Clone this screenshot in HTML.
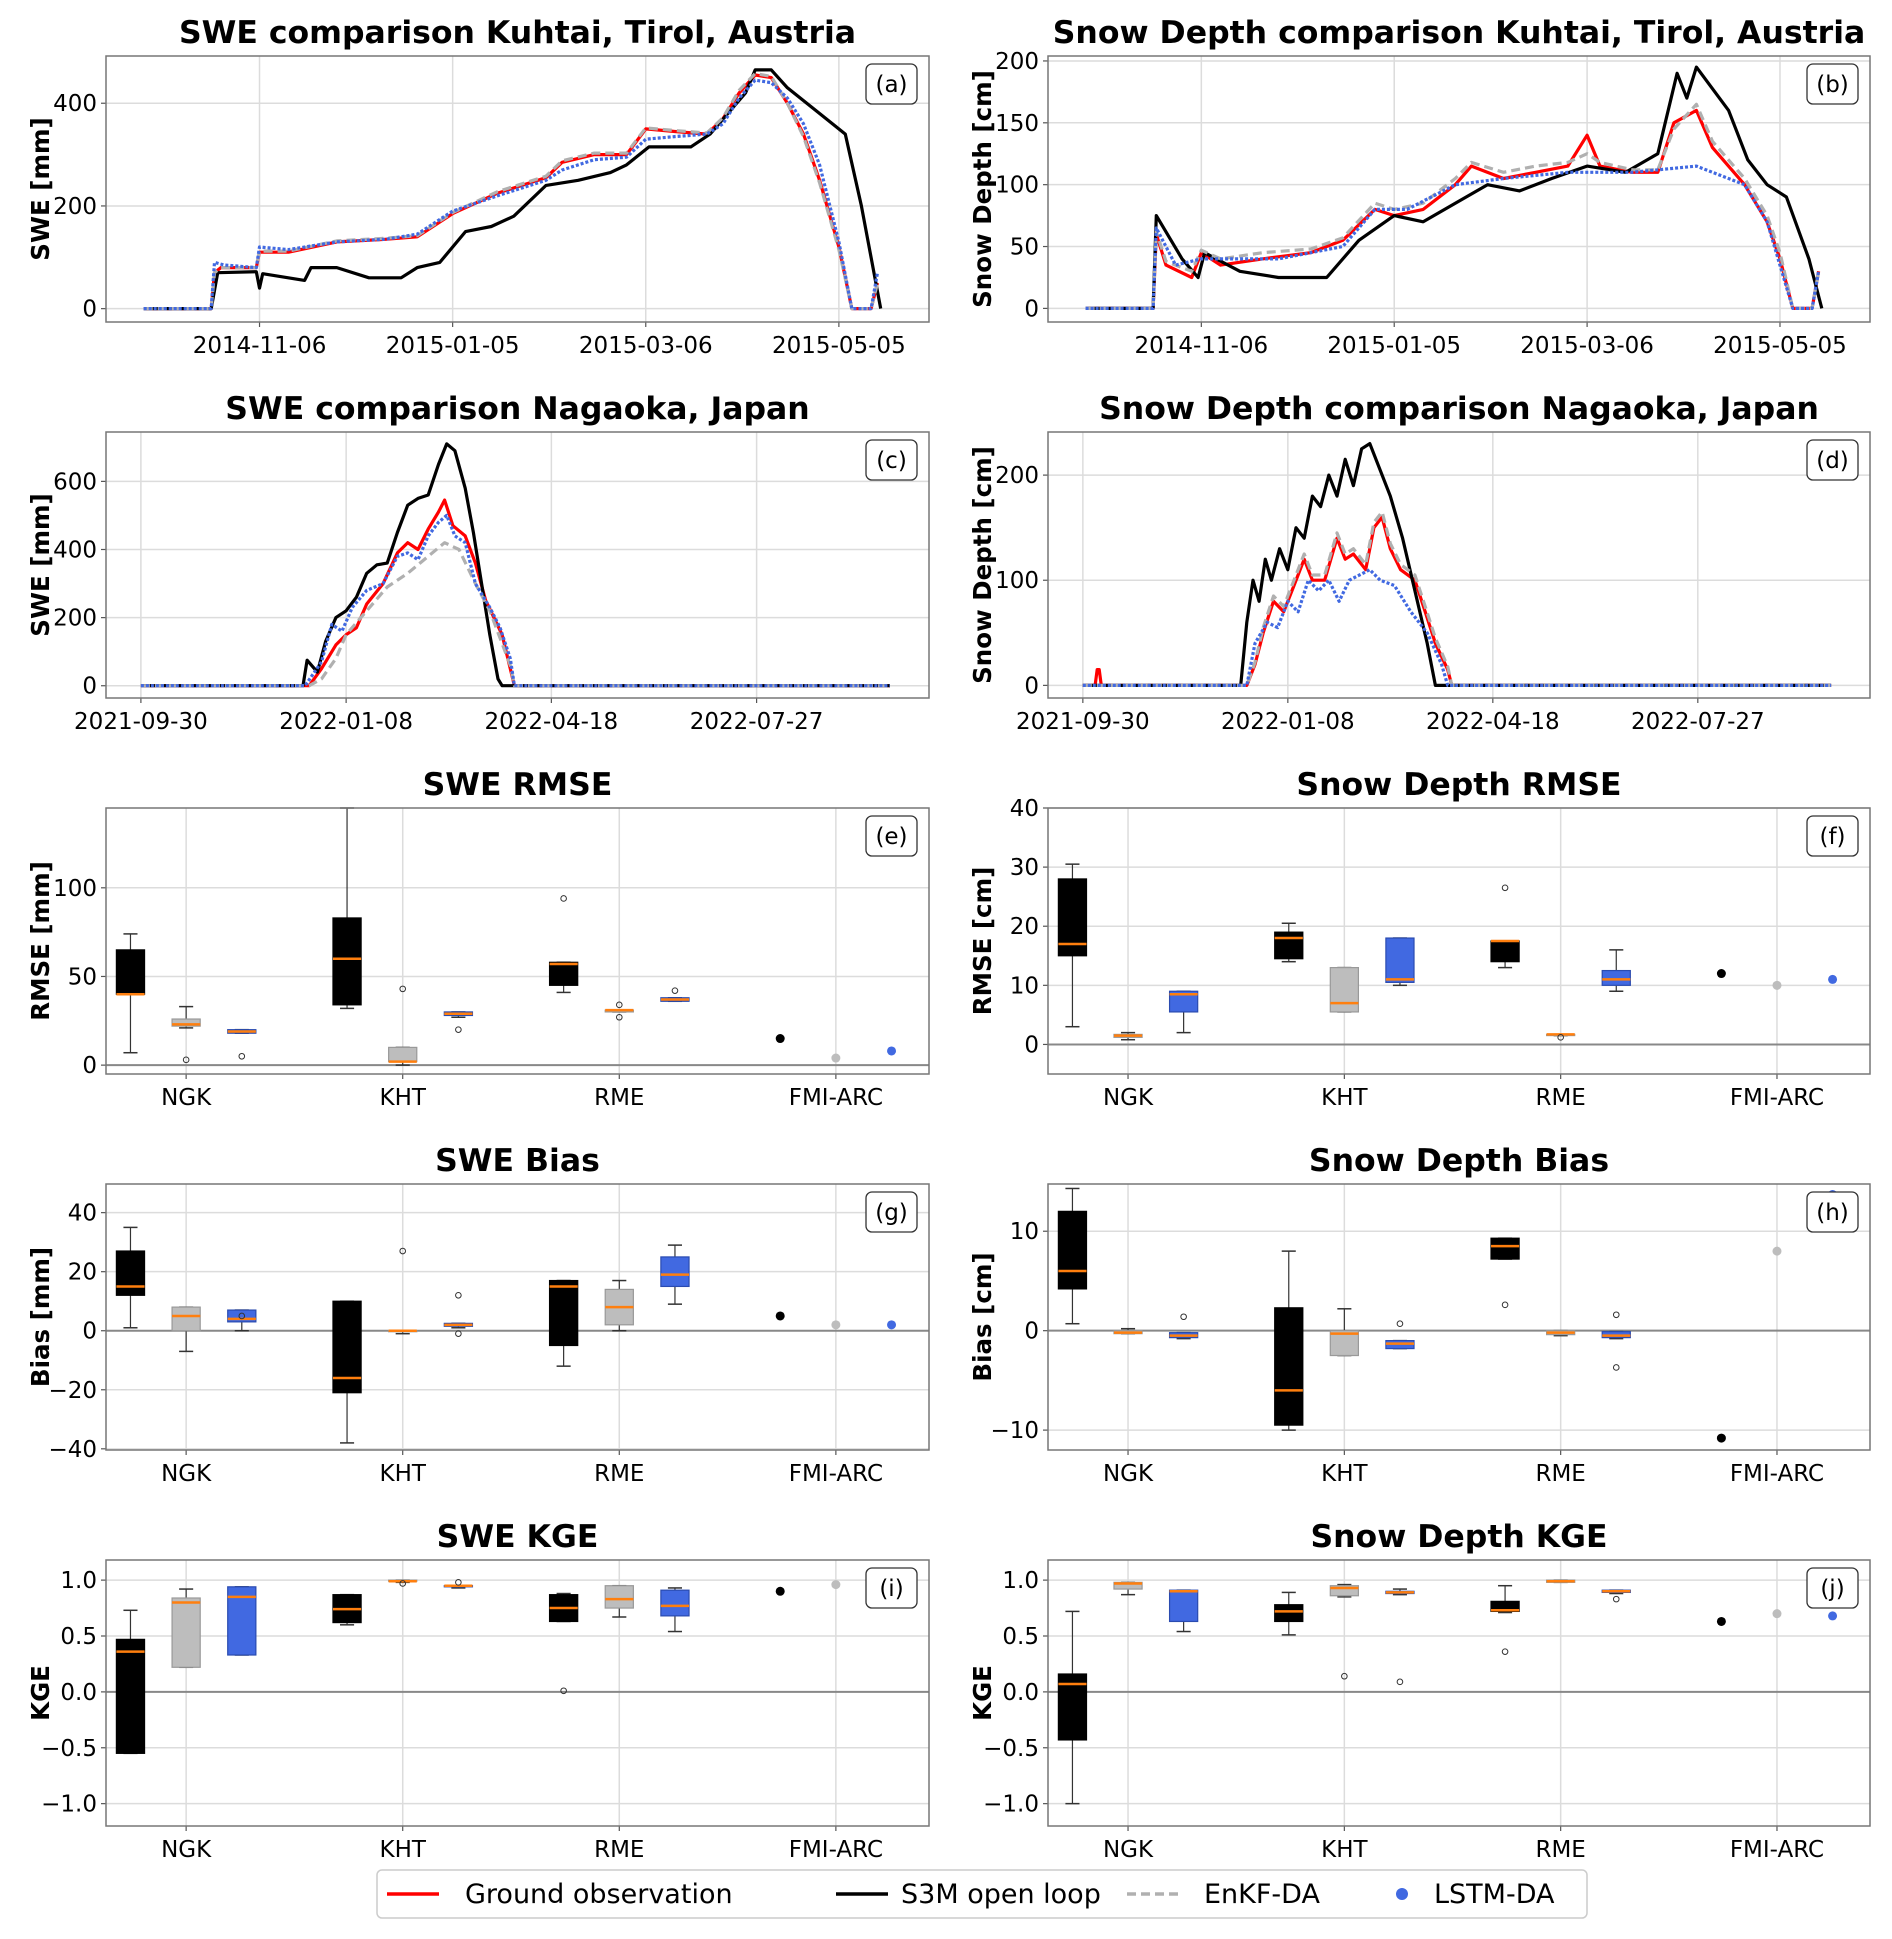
<!DOCTYPE html>
<html><head><meta charset="utf-8"><style>
body{margin:0;background:#fff}
svg text{font-family:"DejaVu Sans","Liberation Sans",sans-serif}
</style></head><body>
<svg id="fig" width="1892" height="1934" viewBox="0 0 1892 1934" xmlns="http://www.w3.org/2000/svg"></svg>
<script>
// ---------- time series data (day index) ----------
const aDates=["2014-11-06","2015-01-05","2015-03-06","2015-05-05"];
const aDateDays=[36,96,156,216];
const aRedX=[0,21,22,24,35,36,45,60,75,85,96,110,125,130,140,150,156,165,175,180,185,190,195,200,205,210,216,220,226,228];
const aRedY=[0,0,70,80,80,110,110,130,135,140,185,225,255,285,300,300,350,345,340,370,420,455,450,400,340,250,120,0,0,50];
const aBlackX=[0,21,23,35,36,37,50,52,60,70,80,85,92,100,108,115,125,135,145,150,157,170,176,187,190,195,200,210,218,223,229];
const aBlackY=[0,0,70,72,40,68,55,80,80,60,60,80,90,150,160,180,240,250,265,280,315,315,340,420,465,465,430,380,340,200,0];
const aGrayX=aRedX;
const aGrayY=[0,0,70,80,80,112,112,132,137,142,187,228,258,288,303,303,352,347,342,372,425,458,452,400,335,245,115,0,0,50];
const aBlueX=[0,21,22,25,35,36,45,60,75,85,96,110,125,130,140,150,156,165,175,180,185,190,195,200,205,210,216,220,226,228];
const aBlueY=[0,0,90,85,80,120,115,130,135,145,190,220,250,270,290,295,330,335,340,360,410,445,440,410,360,280,130,0,0,70];

const bRedX=[0,21,22,25,33,36,42,55,70,80,90,96,105,115,120,130,140,150,156,160,170,178,183,190,195,205,212,216,220,226,228];
const bRedY=[0,0,60,35,25,45,35,40,45,55,80,75,80,100,115,105,110,115,140,115,110,110,150,160,130,100,70,40,0,0,30];
const bBlackX=[0,21,22,30,35,37,48,60,75,85,96,105,115,125,135,145,156,168,178,184,187,190,200,206,212,218,225,229];
const bBlackY=[0,0,75,40,25,45,30,25,25,55,75,70,85,100,95,105,115,110,125,190,170,195,160,120,100,90,40,0];
const bGrayX=bRedX;
const bGrayY=[0,0,62,38,30,47,40,45,48,57,85,80,85,105,118,110,115,118,125,118,112,112,145,165,135,105,75,45,0,0,30];
const bBlueX=[0,21,22,28,36,60,80,90,100,115,130,150,170,190,205,212,220,226,228];
const bBlueY=[0,0,65,35,40,40,50,80,80,100,105,110,110,115,100,70,0,0,30];

const cDates=["2021-09-30","2022-01-08","2022-04-18","2022-07-27"];
const cDateDays=[0,100,200,300];
const cRedX=[0,82,88,95,100,105,110,118,125,130,135,140,145,148,152,158,163,168,172,176,180,182,365];
const cRedY=[0,0,50,120,150,170,240,300,390,420,400,460,510,545,470,440,360,250,200,150,50,0,0];
const cBlackX=[0,79,81,86,90,95,100,105,110,115,120,125,130,135,140,145,149,153,158,162,166,170,174,176,365];
const cBlackY=[0,0,75,40,130,200,220,260,330,355,360,450,530,550,560,650,710,690,580,450,300,150,20,0,0];
const cGrayX=[0,82,88,95,100,110,120,130,140,148,155,163,170,180,182,365];
const cGrayY=[0,0,20,80,150,220,290,330,380,420,400,300,220,60,0,0];
const cBlueX=[0,80,88,93,98,103,110,118,125,130,135,140,145,149,153,158,163,170,175,180,182,365];
const cBlueY=[0,0,70,180,160,230,280,300,380,390,370,440,480,500,440,420,300,230,170,80,0,0];

const dRedX=[0,6,7,8,9,80,84,88,93,98,103,108,112,118,124,128,132,138,142,146,150,155,162,167,172,178,180,365];
const dRedY=[0,0,15,15,0,0,20,50,80,70,95,120,100,100,140,120,125,110,150,160,130,110,100,70,40,15,0,0];
const dBlackX=[0,77,80,83,86,89,92,96,100,104,108,112,116,120,124,128,132,136,140,144,150,156,162,168,172,365];
const dBlackY=[0,0,60,100,80,120,100,130,110,150,140,180,170,200,180,215,190,225,230,210,180,140,90,40,0,0];
const dGrayX=[0,80,84,88,93,98,103,108,112,118,124,128,132,138,142,146,150,155,162,167,172,178,180,365];
const dGrayY=[0,0,22,55,85,75,100,125,105,105,145,125,130,115,155,165,135,115,105,75,45,18,0,0];
const dBlueX=[0,80,84,90,95,100,105,110,115,120,125,130,140,145,152,160,168,175,178,365];
const dBlueY=[0,0,40,60,55,80,70,100,90,100,80,100,110,100,95,70,50,20,0,0];

// ---------- box data: [lo,q1,med,q3,hi] per (site,method) ----------
const sites=["NGK","KHT","RME","FMI-ARC"];
const eBoxBlack=[[7,40,40,65,74],[32,34,60,83,145],[41,45,57,58,58]];
const eBoxGray=[[21,22,23,26,33],[0,2,2,10,10],[30,30,31,31,31]];
const eBoxBlue=[[18,18,19,20,20],[27,28,29,30,30],[36,36,37,38,38]];
const eOutBlack=[[],[],[94]];const eOutGray=[[3],[43],[27,34]];const eOutBlue=[[5],[20],[42]];
const ePts=[15,4,8];

const fBoxBlack=[[3,15,17,28,30.5],[14,14.5,18,19,20.5],[13,14,17.5,17.5,17.5]];
const fBoxGray=[[0.8,1.2,1.5,1.7,2],[5.5,5.5,7,13,13],[1.5,1.5,1.7,1.7,1.7]];
const fBoxBlue=[[2,5.5,8.5,9,9],[10,10.5,11,18,18],[9,10,11,12.5,16]];
const fOutBlack=[[],[],[26.5]];const fOutGray=[[],[],[1.2]];const fOutBlue=[[],[],[]];
const fPts=[12,10,11];

const gBoxBlack=[[1,12,15,27,35],[-38,-21,-16,10,10],[-12,-5,15,17,17]];
const gBoxGray=[[-7,0,5,8,8],[-1,0,0,0,0],[0,2,8,14,17]];
const gBoxBlue=[[0,3,4,7,7],[1,1.5,2,2.5,2.5],[9,15,19,25,29]];
const gOutBlack=[[],[],[]];const gOutGray=[[],[27],[]];const gOutBlue=[[5],[12,-1],[]];
const gPts=[5,2,2];

const hBoxBlack=[[0.7,4.2,6,12,14.3],[-10,-9.5,-6,2.3,8],[7.2,7.2,8.5,9.3,9.3]];
const hBoxGray=[[-0.3,-0.3,-0.2,0,0.2],[-2.5,-2.5,-0.3,0,2.2],[-0.5,-0.4,-0.2,0,0]];
const hBoxBlue=[[-0.8,-0.7,-0.5,-0.2,-0.2],[-1.8,-1.8,-1.3,-1,-1],[-0.8,-0.7,-0.5,-0.1,-0.1]];
const hOutBlack=[[],[],[2.6]];const hOutGray=[[],[],[]];const hOutBlue=[[1.4],[0.7],[1.6,-3.7]];
const hPts=[-10.8,8,13.7];

const iBoxBlack=[[-0.55,-0.55,0.36,0.47,0.73],[0.6,0.62,0.74,0.87,0.87],[0.63,0.63,0.75,0.87,0.88]];
const iBoxGray=[[0.22,0.22,0.8,0.84,0.92],[0.98,0.99,0.99,1.0,1.0],[0.67,0.75,0.83,0.95,0.95]];
const iBoxBlue=[[0.33,0.33,0.85,0.94,0.94],[0.93,0.94,0.95,0.95,0.95],[0.54,0.68,0.77,0.91,0.93]];
const iOutBlack=[[],[],[0.01]];const iOutGray=[[],[0.97],[]];const iOutBlue=[[],[0.98],[]];
const iPts=[0.9,0.96,null];

const jBoxBlack=[[-1.0,-0.43,0.07,0.16,0.72],[0.51,0.63,0.72,0.78,0.89],[0.71,0.72,0.73,0.81,0.95]];
const jBoxGray=[[0.87,0.92,0.97,0.98,0.98],[0.85,0.86,0.93,0.95,0.96],[0.98,0.98,0.99,1.0,1.0]];
const jBoxBlue=[[0.54,0.63,0.9,0.91,0.91],[0.87,0.88,0.89,0.9,0.92],[0.88,0.89,0.9,0.91,0.91]];
const jOutBlack=[[],[],[0.36]];const jOutGray=[[],[0.14],[]];const jOutBlue=[[],[0.09],[0.83]];
const jPts=[0.63,0.7,0.68];

// ---------- drawing ----------
const NS="http://www.w3.org/2000/svg";
const svg=document.getElementById('fig');
function mk(tag,attrs,parent){const e=document.createElementNS(NS,tag);for(const k in attrs)e.setAttribute(k,attrs[k]);(parent||svg).appendChild(e);return e;}
const COLX=[106,1048], W=[823,822];
const ROWY=[56,432,808,1184,1560], H=266;
const CBLK="#000",CGRY="#bdbdbd",CBLU="#4169e1",CRED="#ff0000";

function makeAxes(col,row,xlim,ylim,name){
  const L=COLX[col],T=ROWY[row],w=W[col];
  const g=mk('g',{});
  
  
  const sx=v=>L+(v-xlim[0])/(xlim[1]-xlim[0])*w;
  const sy=v=>T+H-(v-ylim[0])/(ylim[1]-ylim[0])*H;
  return {g,sx,sy,L,T,w};
}
function frame(ax,title,ylabel,letter,yt,ytl){
  const {g,L,T,w,sy}=ax;
  yt.forEach((v,i)=>{
    const y=sy(v);
    const gl=mk('line',{x1:L,x2:L+w,y1:y,y2:y,stroke:'#dcdcdc','stroke-width':1.5},g);
    
    
    const t=mk('text',{x:L-9,y:y+8,'text-anchor':'end','font-size':23},g);
    
    
    t.textContent=ytl[i];
    mk('line',{x1:L-5,x2:L,y1:y,y2:y,stroke:'#555','stroke-width':1.2},g);
  });
  const tt=mk('text',{x:L+w/2,y:T-13,'text-anchor':'middle','font-size':31.5,'font-weight':'bold'},g);
  
  
  tt.textContent=title;
  const yl=mk('text',{x:0,y:0,'text-anchor':'middle','font-size':24.5,'font-weight':'bold',transform:`translate(${L-57},${T+H/2}) rotate(-90)`},g);
  
  
  yl.textContent=ylabel;
}
function border(ax,letter){
  const {g,L,T,w}=ax;
  const r=mk('rect',{x:L,y:T,width:w,height:H,fill:'none',stroke:'#777','stroke-width':1.5},g);
  
  
  const bx=mk('rect',{x:L+w-63,y:T+8,width:51,height:40,rx:6,fill:'#fff',stroke:'#333','stroke-width':1.3},g);
  
  
  const lt=mk('text',{x:L+w-37.5,y:T+36,'text-anchor':'middle','font-size':23},g);
  
  
  lt.textContent=letter;
}
function xgrid(ax,vals,labels){
  const {g,T,sx}=ax;
  vals.forEach((v,i)=>{
    const x=sx(v);
    const gl=mk('line',{x1:x,x2:x,y1:T,y2:T+H,stroke:'#dcdcdc','stroke-width':1.5},g);
    
    
    mk('line',{x1:x,x2:x,y1:T+H,y2:T+H+5,stroke:'#555','stroke-width':1.2},g);
    const t=mk('text',{x:x,y:T+H+31,'text-anchor':'middle','font-size':23},g);
    
    
    t.textContent=labels[i];
  });
}
function series(ax,xs,ys,color,dash,name){
  const pts=xs.map((x,i)=>ax.sx(x).toFixed(1)+','+ax.sy(ys[i]).toFixed(1)).join(' ');
  const p=mk('polyline',{points:pts,fill:'none',stroke:color,'stroke-width':3.2,'stroke-linejoin':'round'},ax.g);
  if(dash)p.setAttribute('stroke-dasharray',dash);
  
  
}
function tsPanel(col,row,xlim,ylim,title,ylabel,letter,yt,D,dd,dl,name){
  const ax=makeAxes(col,row,xlim,ylim,name);
  xgrid(ax,dd,dl);
  frame(ax,title,ylabel,letter,yt,yt.map(String));
  series(ax,D[0],D[1],CRED,null,'ground-observation-line');
  series(ax,D[2],D[3],CBLK,null,'s3m-open-loop-line');
  series(ax,D[4],D[5],'#b0b0b0','9,5','enkf-da-line');
  series(ax,D[6],D[7],CBLU,'3,2','lstm-da-line');
  border(ax,letter);
}
tsPanel(0,0,[-11.7,244],[-26,492],"SWE comparison Kuhtai, Tirol, Austria","SWE [mm]","(a)",[0,200,400],
  [aRedX,aRedY,aBlackX,aBlackY,aGrayX,aGrayY,aBlueX,aBlueY],aDateDays,aDates,'panel-a-swe-kuhtai');
tsPanel(1,0,[-11.7,244],[-11,204],"Snow Depth comparison Kuhtai, Tirol, Austria","Snow Depth [cm]","(b)",[0,50,100,150,200],
  [bRedX,bRedY,bBlackX,bBlackY,bGrayX,bGrayY,bBlueX,bBlueY],aDateDays,aDates,'panel-b-depth-kuhtai');
tsPanel(0,1,[-17,384],[-36,745],"SWE comparison Nagaoka, Japan","SWE [mm]","(c)",[0,200,400,600],
  [cRedX,cRedY,cBlackX,cBlackY,cGrayX,cGrayY,cBlueX,cBlueY],cDateDays,cDates,'panel-c-swe-nagaoka');
tsPanel(1,1,[-17,384],[-12,241],"Snow Depth comparison Nagaoka, Japan","Snow Depth [cm]","(d)",[0,100,200],
  [dRedX,dRedY,dBlackX,dBlackY,dGrayX,dGrayY,dBlueX,dBlueY],cDateDays,cDates,'panel-d-depth-nagaoka');

const OFF=0.257,BW=0.13;
function box(ax,pos,b,outs,fill,edge,name){
  const g=mk('g',{},ax.g);
  
  
  const x=ax.sx(pos),hw=(ax.sx(pos+BW/2)-ax.sx(pos-BW/2))/2,cw=hw*0.5;
  const yy=b.map(v=>ax.sy(v));
  mk('line',{x1:x,x2:x,y1:yy[0],y2:yy[1],stroke:'#333','stroke-width':1.2},g);
  mk('line',{x1:x,x2:x,y1:yy[3],y2:yy[4],stroke:'#333','stroke-width':1.2},g);
  mk('line',{x1:x-cw,x2:x+cw,y1:yy[0],y2:yy[0],stroke:'#333','stroke-width':1.5},g);
  mk('line',{x1:x-cw,x2:x+cw,y1:yy[4],y2:yy[4],stroke:'#333','stroke-width':1.5},g);
  mk('rect',{x:x-hw,y:yy[3],width:2*hw,height:Math.max(1,yy[1]-yy[3]),fill:fill,stroke:edge,'stroke-width':1.2},g);
  mk('line',{x1:x-hw,x2:x+hw,y1:yy[2],y2:yy[2],stroke:'#ff7f0e','stroke-width':2.5},g);
  outs.forEach(o=>{mk('circle',{cx:x,cy:ax.sy(o),r:2.8,fill:'none',stroke:'#333','stroke-width':1},g);});
}
function boxPanel(col,row,ylim,title,ylabel,letter,yt,ytl,BB,BG,BU,OB,OG,OU,P,name){
  const ax=makeAxes(col,row,[0.63,4.43],ylim,name);
  xgrid(ax,[1,2,3,4],sites);
  frame(ax,title,ylabel,letter,yt,ytl);
  const z=ax.sy(0);
  const zl=mk('line',{x1:ax.L,x2:ax.L+ax.w,y1:z,y2:z,stroke:'#888','stroke-width':2},ax.g);
  
  
  for(let s=0;s<3;s++){
    box(ax,s+1-OFF,BB[s],OB[s],'#000','#000','box-s3m-'+sites[s].toLowerCase());
    box(ax,s+1,BG[s],OG[s],CGRY,'#999','box-enkf-'+sites[s].toLowerCase());
    box(ax,s+1+OFF,BU[s],OU[s],CBLU,'#2a4bb0','box-lstm-'+sites[s].toLowerCase());
  }
  const cols=[CBLK,CGRY,CBLU],nm=['fmi-s3m-point','fmi-enkf-point','fmi-lstm-point'];
  P.forEach((v,i)=>{
    if(v===null)return;
    const c=mk('circle',{cx:ax.sx(4+(i-1)*OFF),cy:ax.sy(v),r:4.5,fill:cols[i]},ax.g);
    
    
  });
  border(ax,letter);
}
boxPanel(0,2,[-5,145],"SWE RMSE","RMSE [mm]","(e)",[0,50,100],["0","50","100"],eBoxBlack,eBoxGray,eBoxBlue,eOutBlack,eOutGray,eOutBlue,ePts,'panel-e-swe-rmse');
boxPanel(1,2,[-5,40],"Snow Depth RMSE","RMSE [cm]","(f)",[0,10,20,30,40],["0","10","20","30","40"],fBoxBlack,fBoxGray,fBoxBlue,fOutBlack,fOutGray,fOutBlue,fPts,'panel-f-depth-rmse');
boxPanel(0,3,[-40.4,49.7],"SWE Bias","Bias [mm]","(g)",[-40,-20,0,20,40],["\u221240","\u221220","0","20","40"],gBoxBlack,gBoxGray,gBoxBlue,gOutBlack,gOutGray,gOutBlue,gPts,'panel-g-swe-bias');
boxPanel(1,3,[-12,14.75],"Snow Depth Bias","Bias [cm]","(h)",[-10,0,10],["\u221210","0","10"],hBoxBlack,hBoxGray,hBoxBlue,hOutBlack,hOutGray,hOutBlue,hPts,'panel-h-depth-bias');
boxPanel(0,4,[-1.2,1.18],"SWE KGE","KGE","(i)",[-1,-0.5,0,0.5,1],["\u22121.0","\u22120.5","0.0","0.5","1.0"],iBoxBlack,iBoxGray,iBoxBlue,iOutBlack,iOutGray,iOutBlue,iPts,'panel-i-swe-kge');
boxPanel(1,4,[-1.2,1.18],"Snow Depth KGE","KGE","(j)",[-1,-0.5,0,0.5,1],["\u22121.0","\u22120.5","0.0","0.5","1.0"],jBoxBlack,jBoxGray,jBoxBlue,jOutBlack,jOutGray,jOutBlue,jPts,'panel-j-depth-kge');

// legend
const lg=mk('g',{});


mk('rect',{x:377,y:1870,width:1210,height:48,rx:5,fill:'#fff',stroke:'#ccc','stroke-width':1.5},lg);
// [lineStart, textX, label, color, dash, name]
const LE=[[387,465,'Ground observation',CRED,null,'legend-entry-ground'],[836,901,'S3M open loop',CBLK,null,'legend-entry-s3m'],[1127,1204,'EnKF-DA','#b0b0b0','9,5','legend-entry-enkf'],[1390,1434,'LSTM-DA',CBLU,'dot','legend-entry-lstm']];
LE.forEach(e=>{
  const g=mk('g',{},lg);
  
  
  if(e[4]==='dot'){mk('circle',{cx:e[0]+12,cy:1894,r:6,fill:e[3]},g);}
  else{const l=mk('line',{x1:e[0],x2:e[0]+52,y1:1894,y2:1894,stroke:e[3],'stroke-width':3.5},g);if(e[4])l.setAttribute('stroke-dasharray',e[4]);}
  const t=mk('text',{x:e[1],y:1903,'font-size':27},g);
  t.textContent=e[2];
});
</script>
</body></html>
